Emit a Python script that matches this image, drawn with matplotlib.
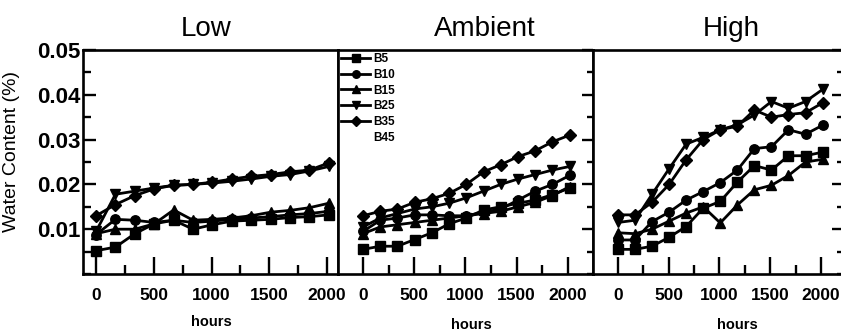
import matplotlib

matplotlib.use("Agg")
import matplotlib.pyplot as plt
from matplotlib.lines import Line2D
from matplotlib.ticker import MultipleLocator, FormatStrFormatter


HOURS = [0, 168, 336, 504, 672, 840, 1008, 1176, 1344, 1512, 1680, 1848, 2016]
SERIES = ["B5", "B10", "B15", "B25", "B35"]
MARKERS = ["s", "o", "^", "v", "D"]
PANELS = ["Low", "Ambient", "High"]
X_TICKS = [0, 500, 1000, 1500, 2000]
Y_TICKS = [0.01, 0.02, 0.03, 0.04, 0.05]

low_b5 = [0.0052, 0.0060, 0.0090, 0.0112, 0.0120, 0.0100, 0.0110, 0.0118, 0.0120, 0.0122, 0.0126, 0.0128, 0.0132]
low_b10 = [0.0088, 0.0122, 0.0120, 0.0115, 0.0120, 0.0115, 0.0118, 0.0122, 0.0125, 0.0128, 0.0132, 0.0135, 0.0140]
low_b15 = [0.0090, 0.0100, 0.0100, 0.0112, 0.0143, 0.0120, 0.0122, 0.0125, 0.0130, 0.0138, 0.0142, 0.0148, 0.0158]
low_b25 = [0.0095, 0.0178, 0.0185, 0.0192, 0.0198, 0.0200, 0.0203, 0.0207, 0.0212, 0.0218, 0.0222, 0.0230, 0.0240]
low_b35 = [0.0130, 0.0155, 0.0175, 0.0190, 0.0198, 0.0200, 0.0205, 0.0212, 0.0218, 0.0222, 0.0228, 0.0232, 0.0248]

amb_b5 = [0.0055, 0.0062, 0.0062, 0.0077, 0.0092, 0.0112, 0.0125, 0.0143, 0.0150, 0.0158, 0.0165, 0.0177, 0.0192]
amb_b10 = [0.0095, 0.0120, 0.0125, 0.0132, 0.0132, 0.0130, 0.0130, 0.0138, 0.0145, 0.0165, 0.0185, 0.0200, 0.0220]
amb_b15 = [0.0090, 0.0105, 0.0110, 0.0115, 0.0120, 0.0125, 0.0130, 0.0135, 0.0140, 0.0150, 0.0160, 0.0175, 0.0195]
amb_b25 = [0.0105, 0.0125, 0.0135, 0.0145, 0.0150, 0.0158, 0.0170, 0.0185, 0.0200, 0.0212, 0.0222, 0.0232, 0.0240]
amb_b35 = [0.0130, 0.0140, 0.0145, 0.0160, 0.0168, 0.0180, 0.0200, 0.0228, 0.0244, 0.0262, 0.0275, 0.0295, 0.0310]

high_b5 = [0.0055, 0.0055, 0.0062, 0.0082, 0.0106, 0.0147, 0.0162, 0.0205, 0.0242, 0.0232, 0.0264, 0.0264, 0.0272]
high_b10 = [0.0076, 0.0076, 0.0117, 0.0138, 0.0165, 0.0184, 0.0204, 0.0232, 0.0280, 0.0284, 0.0322, 0.0312, 0.0332]
high_b15 = [0.0092, 0.0090, 0.0100, 0.0118, 0.0136, 0.0150, 0.0114, 0.0154, 0.0188, 0.0198, 0.0220, 0.0250, 0.0256]
high_b25 = [0.0115, 0.0120, 0.0178, 0.0235, 0.0290, 0.0305, 0.0322, 0.0333, 0.0355, 0.0385, 0.0370, 0.0385, 0.0412]
high_b35 = [0.0132, 0.0132, 0.0160, 0.0200, 0.0255, 0.0300, 0.0322, 0.0330, 0.0366, 0.0350, 0.0356, 0.0360, 0.0382]

PANEL_DATA = [
    [low_b5, low_b10, low_b15, low_b25, low_b35],
    [amb_b5, amb_b10, amb_b15, amb_b25, amb_b35],
    [high_b5, high_b10, high_b15, high_b25, high_b35],
]

W, H = 841, 331
# pixel layout of the three boxes: left, right, x-limits
BOXES = [
    (83, 338, (-113, 2095)),
    (338, 593, (-244, 2244)),
    (593, 843, (-246, 2217)),
]
TOP, BOTTOM = 50, 274
TITLE_X = [0.482, 0.576, 0.553]
HOURS_POS = [(0.502, -0.183), (0.522, -0.196), (0.576, -0.197)]

plt.rcParams["font.family"] = ["Liberation Sans", "DejaVu Sans"]


def style_axis(ax, idx):
    for spine in ax.spines.values():
        spine.set_linewidth(1.9)
    ax.set_ylim(0, 0.05)
    ax.set_xticks(X_TICKS)
    ax.xaxis.set_minor_locator(MultipleLocator(250))
    ax.set_yticks(Y_TICKS)
    ax.yaxis.set_minor_locator(MultipleLocator(0.005))
    ax.yaxis.set_major_formatter(FormatStrFormatter("%.2f"))

    ax.tick_params(axis="x", which="major", direction="in", length=12, width=1.7,
                   pad=10, labelsize=12.5, top=False)
    ax.tick_params(axis="x", which="minor", direction="in", length=6.5, width=1.7, top=False)
    for lab in ax.get_xticklabels():
        lab.set_fontweight("bold")

    if idx == 0:
        ax.tick_params(axis="y", which="major", direction="in", length=9.5, width=1.7,
                       pad=1.5, labelsize=16, left=True, right=False)
        ax.tick_params(axis="y", which="minor", direction="in", length=6, width=1.7,
                       left=True, right=False)
        for lab in ax.get_yticklabels():
            lab.set_fontweight("bold")
    else:
        ax.tick_params(axis="y", which="major", direction="in", length=8, width=1.7,
                       left=False, right=True, labelleft=False)
        ax.tick_params(axis="y", which="minor", direction="in", length=4, width=1.7,
                       left=False, right=True)


def main():
    fig = plt.figure(figsize=(W / 100, H / 100), dpi=100)
    axes = []
    for idx, (x0, x1, xlim) in enumerate(BOXES):
        ax = fig.add_axes([x0 / W, (H - BOTTOM) / H, (x1 - x0) / W, (BOTTOM - TOP) / H])
        ax.set_xlim(*xlim)
        style_axis(ax, idx)
        for name, marker, values in zip(SERIES, MARKERS, PANEL_DATA[idx]):
            ax.plot(HOURS, values, color="black", lw=2.0, marker=marker,
                    ms=6.8 if marker != "D" else 6.3, mfc="black", mec="black", label=name)
        ax.text(TITLE_X[idx], 1.0625, PANELS[idx], transform=ax.transAxes,
                ha="center", va="baseline", fontsize=20)
        ax.set_xlabel("hours", fontsize=10.5, fontweight="bold")
        ax.xaxis.set_label_coords(*HOURS_POS[idx])
        axes.append(ax)

    axes[0].set_ylabel("Water Content (%)", fontsize=14)
    axes[0].yaxis.set_label_coords((20 - 83) / 255, (BOTTOM - 152) / (BOTTOM - TOP))

    handles, labels = axes[1].get_legend_handles_labels()
    handles.append(Line2D([], [], linestyle="none", marker="none"))
    labels.append("B45")
    axes[1].legend(handles, labels, loc="upper left", bbox_to_anchor=(0.0, 1.0),
                   frameon=False, prop={"size": 8.5, "weight": "bold"},
                   handlelength=2.5, handletextpad=0.2, labelspacing=0.32,
                   borderpad=0.25, borderaxespad=0.0, markerscale=0.8)

    fig.savefig("out.png", dpi=100)
    plt.close(fig)


if __name__ == "__main__":
    main()
